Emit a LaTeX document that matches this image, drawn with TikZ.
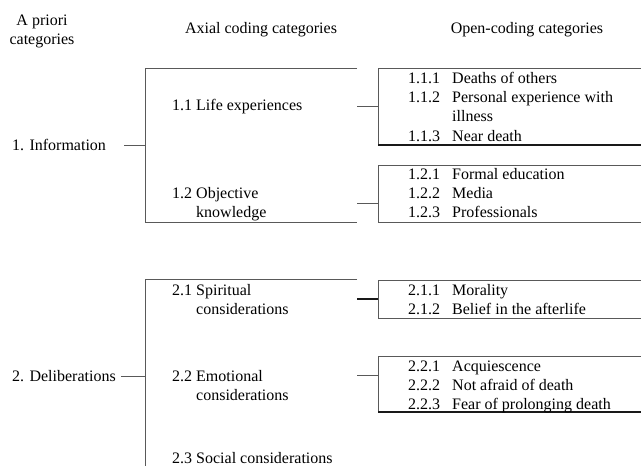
\documentclass[tikz,border=0pt]{standalone}
\usepackage{fontspec}
\setmainfont{Liberation Serif}
\begin{document}
\begin{tikzpicture}[x=1pt,y=-1pt,
  txt/.style={font=\fontsize{16}{19}\selectfont, inner sep=0pt, anchor=base west, align=left},
  hdr/.style={font=\fontsize{16}{19}\selectfont, inner sep=0pt, align=center},
  frame/.style={draw=none, inner sep=0pt, outer sep=0pt},
  ln/.style={line width=0.9pt, draw=black!65},
  lnb/.style={line width=1.3pt, draw=black!90}]
\clip (0,0) rectangle (641,466);
\fill[white] (0,0) rectangle (641,466);

% headers
\node[hdr] (h1) at (42,31.5) {A priori\\categories};
\node[hdr] (h2) at (261,30) {Axial coding categories};
\node[hdr] (h3) at (527,30) {Open-coding categories};

% ---------- group 1 ----------
\node[frame, minimum width=212pt, minimum height=154pt] (ax1) at (251,145) {};
\draw[ln] (ax1.north east) -- (ax1.north west) -- (ax1.south west) -- (ax1.south east);
\node[txt, anchor=west] (p1) at (12,145) {1. Information};
\draw[ln] ([xshift=18pt]p1.east |- ax1.west) -- (ax1.west);

\node[txt] (a11) at (172,110) {1.1 Life experiences};
\node[txt] (a12) at (172,217) {1.2 Objective\\\hspace*{24pt}knowledge};

\node[frame, minimum width=282pt, minimum height=77pt] (o11) at (519,106.5) {};
\draw[ln] (o11.north east) -- (o11.north west) -- (o11.south west);
\draw[lnb] (o11.south west) -- (o11.south east);
\node[txt] (n111) at (408,83) {1.1.1};  \node[txt] (t111) at (452,83) {Deaths of others};
\node[txt] (n112) at (408,102) {1.1.2}; \node[txt] (t112) at (452,121) {Personal experience with\\illness};
\node[txt] (n113) at (408,141) {1.1.3}; \node[txt] (t113) at (452,141) {Near death};

\node[frame, minimum width=282pt, minimum height=57pt] (o12) at (519,193.5) {};
\draw[ln] (o12.north east) -- (o12.north west) -- (o12.south west) -- (o12.south east);
\node[txt] (n121) at (408,179) {1.2.1}; \node[txt] (t121) at (452,179) {Formal education};
\node[txt] (n122) at (408,198) {1.2.2}; \node[txt] (t122) at (452,198) {Media};
\node[txt] (n123) at (408,217) {1.2.3}; \node[txt] (t123) at (452,217) {Professionals};

\draw[ln] (ax1.east |- o11.west) -- (o11.west);
\coordinate (c12) at (378,203);
\draw[ln] (ax1.east |- c12) -- (c12);

% ---------- group 2 ----------
\node[frame, minimum width=212pt, minimum height=194pt] (ax2) at (251,376) {};
\draw[ln] (ax2.north east) -- (ax2.north west) -- (ax2.south west);
\node[txt, anchor=west] (p2) at (12,376) {2. Deliberations};
\draw[ln] ([xshift=5pt]p2.east |- ax2.west) -- (ax2.west);

\node[txt] (a21) at (172,314) {2.1 Spiritual\\\hspace*{24pt}considerations};
\node[txt] (a22) at (172,400) {2.2 Emotional\\\hspace*{24pt}considerations};
\node[txt] (a23) at (172,463) {2.3 Social considerations};

\node[frame, minimum width=282pt, minimum height=38pt] (o21) at (519,299) {};
\draw[ln] (o21.north east) -- (o21.north west) -- (o21.south west) -- (o21.south east);
\node[txt] (n211) at (408,295) {2.1.1}; \node[txt] (t211) at (452,295) {Morality};
\node[txt] (n212) at (408,314) {2.1.2}; \node[txt] (t212) at (452,314) {Belief in the afterlife};

\node[frame, minimum width=282pt, minimum height=56pt] (o22) at (519,384) {};
\draw[ln] (o22.north east) -- (o22.north west) -- (o22.south west);
\draw[lnb] (o22.south west) -- (o22.south east);
\node[txt] (n221) at (408,371) {2.2.1}; \node[txt] (t221) at (452,371) {Acquiescence};
\node[txt] (n222) at (408,390) {2.2.2}; \node[txt] (t222) at (452,390) {Not afraid of death};
\node[txt] (n223) at (408,409) {2.2.3}; \node[txt] (t223) at (452,409) {Fear of prolonging death};

\draw[lnb] (ax2.east |- o21.west) -- (o21.west);
\coordinate (c22) at (378,375);
\draw[ln] (ax2.east |- c22) -- (c22);
\end{tikzpicture}
\end{document}
